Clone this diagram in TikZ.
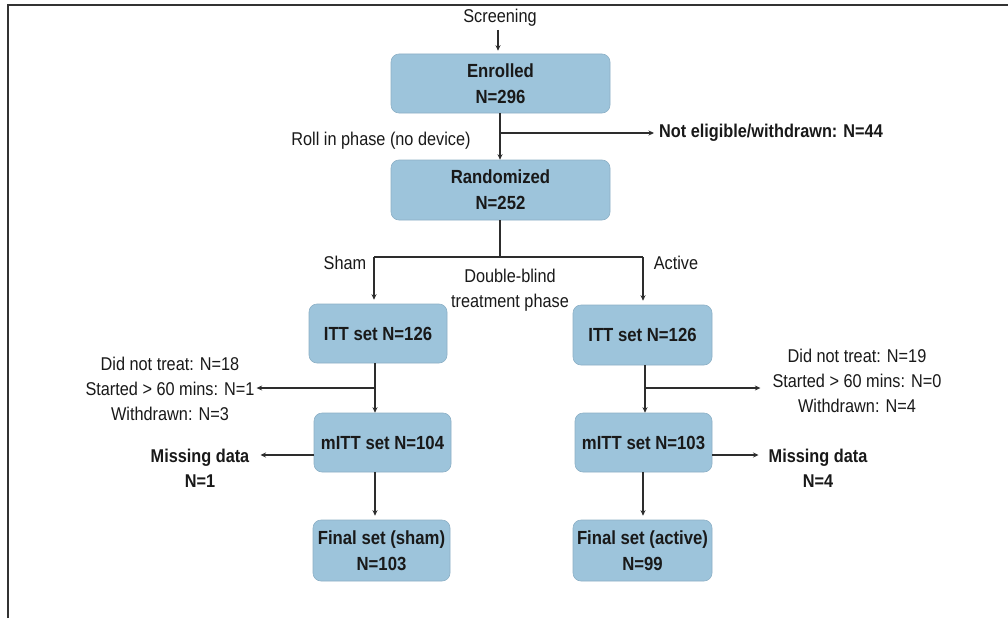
\documentclass[tikz,border=0pt]{standalone}
\usepackage{fontspec}
\setmainfont{Liberation Sans}[FakeStretch=0.88]
\usetikzlibrary{arrows.meta,calc}
\definecolor{boxblue}{RGB}{157,196,219}
\definecolor{boxedge}{RGB}{140,176,198}
\definecolor{txt}{RGB}{25,25,25}
\definecolor{linecol}{RGB}{45,45,45}
\tikzset{
  box/.style={rectangle, rounded corners=8pt, fill=boxblue, draw=boxedge, line width=0.6pt,
    align=center, inner sep=0pt, text=txt, font=\bfseries\fontsize{19}{26}\selectfont},
  lbl/.style={align=center, inner sep=0pt, text=txt, font=\fontsize{18.5}{25}\selectfont},
  blbl/.style={lbl, font=\bfseries\fontsize{18.5}{25}\selectfont},
  conn/.style={line width=1.2pt, draw=linecol},
  arr/.style={conn, -{Stealth[length=5.5pt,width=5pt]}}
}
\begin{document}
\begin{tikzpicture}[x=1pt,y=-1pt]
\useasboundingbox (0,0) rectangle (1008,618);
\fill[white] (0,0) rectangle (1008,618);
% frame
\draw[line width=2.4pt, black!80] (8,618) -- (8,5) -- (1008,5);

% nodes
\node[lbl] (scr) at (500,18) {Screening};
\node[box, minimum width=219pt, minimum height=59pt] (enr) at (500.5,83.5) {Enrolled\\N=296};
\node[box, minimum width=219pt, minimum height=60pt] (rand) at (500.5,190) {Randomized\\N=252};
\node[blbl, anchor=west] (ne) at (659,133) {Not eligible/withdrawn: N=44};
\node[lbl] (roll) at (381,141) {Roll in phase (no device)};

\node[lbl] (sham) at (345,263) {Sham};
\node[lbl] (act) at (676,263) {Active};
\node[lbl] (dbl) at (510,290) {Double-blind\\treatment phase};

\node[box, minimum width=138pt, minimum height=59pt] (ittL) at (378,333.5) {ITT set N=126};
\node[box, minimum width=139pt, minimum height=60pt] (ittR) at (642.5,335) {ITT set N=126};
\node[box, minimum width=137pt, minimum height=59pt] (mittL) at (382.5,442.5) {mITT set N=104};
\node[box, minimum width=137pt, minimum height=59pt] (mittR) at (643.5,442.5) {mITT set N=103};
\node[box, minimum width=137pt, minimum height=61pt] (finL) at (381.5,550.5) {Final set (sham)\\N=103};
\node[box, minimum width=139pt, minimum height=61pt] (finR) at (642.5,550.5) {Final set (active)\\N=99};

\node[lbl] (dntL) at (170,389) {Did not treat: N=18\\Started > 60 mins: N=1\\Withdrawn: N=3};
\node[lbl] (dntR) at (857,381) {Did not treat: N=19\\Started > 60 mins: N=0\\Withdrawn: N=4};
\node[blbl] (missL) at (200,468) {Missing data\\N=1};
\node[blbl] (missR) at (818,468) {Missing data\\N=4};

% coordinates
\coordinate (b1) at (500,133);
\coordinate (b2) at (500,257);
\coordinate (sL) at (374,257);
\coordinate (sR) at (643,257);
\coordinate (cL) at (375,388);
\coordinate (cR) at (645,388);
\coordinate (mL) at (mittL.west |- 0,455);
\coordinate (mR) at (mittR.east |- 0,455);

% connectors
\draw[arr, shorten <=3pt, shorten >=3pt] (scr.south -| 498,0) -- (enr.north -| 498,0);
\draw[arr] (enr.south -| b1) -- (rand.north -| b1);
\draw[arr, shorten >=5pt] (b1) -- (ne.west);
\draw[conn] (rand.south -| b2) -- (b2);
\draw[conn] (sL) -- (sR);
\draw[arr, shorten >=4pt] (sL) -- (sL |- ittL.north);
\draw[arr, shorten >=4pt] (sR) -- (sR |- ittR.north);

\draw[arr] (ittL.south -| cL) -- (mittL.north -| cL);
\draw[arr, shorten >=2pt] (cL) -- (cL -| dntL.east);
\draw[arr] (ittR.south -| cR) -- (mittR.north -| cR);
\draw[arr, shorten >=12pt] (cR) -- (cR -| dntR.west);

\draw[arr, shorten >=11pt] (mL) -- (mL -| missL.east);
\draw[arr, shorten >=10pt] (mR) -- (mR -| missR.west);
\draw[arr, shorten >=4pt] (mittL.south -| cL) -- (finL.north -| cL);
\draw[arr, shorten >=4pt] (mittR.south -| sR) -- (finR.north -| sR);
\end{tikzpicture}
\end{document}
